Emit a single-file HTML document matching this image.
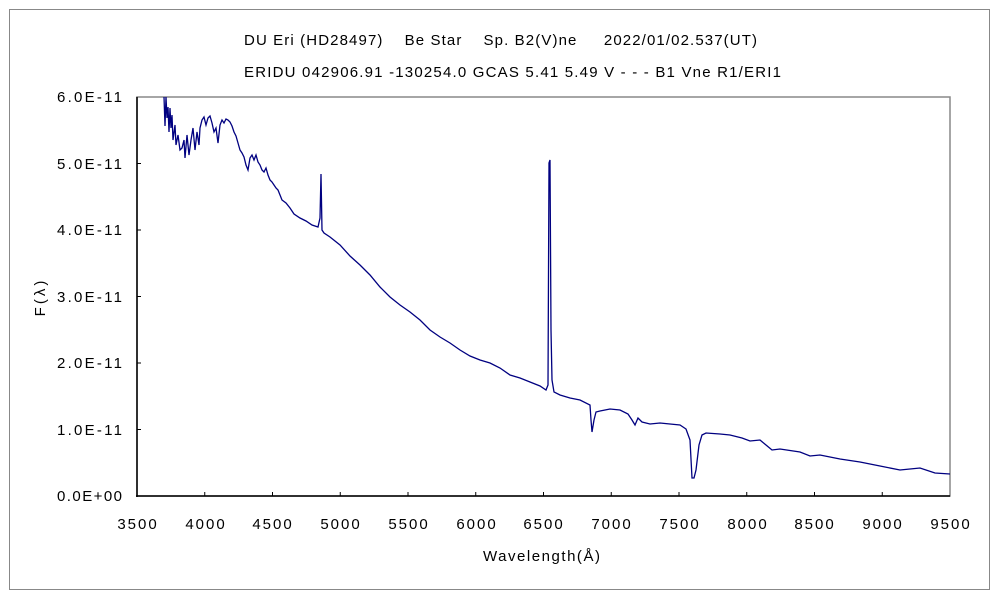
<!DOCTYPE html>
<html><head><meta charset="utf-8"><style>
body{margin:0;background:#fff}
svg text{font-family:"Liberation Sans","Noto Sans CJK JP",sans-serif;font-size:15px;fill:#000}
</style></head><body>
<svg width="1000" height="600" xmlns="http://www.w3.org/2000/svg">
<rect x="0" y="0" width="1000" height="600" fill="#fff"/>
<rect x="9.5" y="9.5" width="980" height="580" fill="none" stroke="#888" stroke-width="1"/>
<text x="244" y="45" textLength="513" lengthAdjust="spacing" xml:space="preserve">DU Eri (HD28497)    Be Star    Sp. B2(V)ne     2022/01/02.537(UT)</text>
<text x="244" y="77" textLength="537" lengthAdjust="spacing">ERIDU 042906.91 -130254.0 GCAS 5.41 5.49 V - - - B1 Vne R1/ERI1</text>
<rect x="137" y="97" width="813" height="399" fill="none" stroke="#888" stroke-width="1.5"/>
<line x1="137" y1="97" x2="137" y2="497" stroke="#000" stroke-width="1.5"/>
<line x1="136" y1="496" x2="950" y2="496" stroke="#000" stroke-width="1.5"/>
<g stroke="#000" stroke-width="1">
<line x1="137" y1="163.5" x2="141" y2="163.5"/><line x1="137" y1="230" x2="141" y2="230"/><line x1="137" y1="296.5" x2="141" y2="296.5"/><line x1="137" y1="363" x2="141" y2="363"/><line x1="137" y1="429.5" x2="141" y2="429.5"/>
<line x1="204.75" y1="496" x2="204.75" y2="492"/><line x1="272.5" y1="496" x2="272.5" y2="492"/><line x1="340.25" y1="496" x2="340.25" y2="492"/><line x1="408" y1="496" x2="408" y2="492"/><line x1="475.75" y1="496" x2="475.75" y2="492"/><line x1="543.5" y1="496" x2="543.5" y2="492"/><line x1="611.25" y1="496" x2="611.25" y2="492"/><line x1="679" y1="496" x2="679" y2="492"/><line x1="746.75" y1="496" x2="746.75" y2="492"/><line x1="814.5" y1="496" x2="814.5" y2="492"/><line x1="882.25" y1="496" x2="882.25" y2="492"/>
</g>
<g>
<text x="57" y="102" textLength="65">6.0E-11</text><text x="57" y="169" textLength="65">5.0E-11</text><text x="57" y="235" textLength="65">4.0E-11</text><text x="57" y="302" textLength="65">3.0E-11</text><text x="57" y="368" textLength="65">2.0E-11</text><text x="57" y="435" textLength="65">1.0E-11</text><text x="57" y="501" textLength="65">0.0E+00</text>
</g>
<g text-anchor="middle" style="letter-spacing:2px">
<text x="138" y="529">3500</text><text x="206" y="529">4000</text><text x="273" y="529">4500</text><text x="341" y="529">5000</text><text x="409" y="529">5500</text><text x="477" y="529">6000</text><text x="544" y="529">6500</text><text x="612" y="529">7000</text><text x="680" y="529">7500</text><text x="748" y="529">8000</text><text x="815" y="529">8500</text><text x="883" y="529">9000</text><text x="951" y="529">9500</text>
</g>
<text x="483" y="561" textLength="117">Wavelength(Å)</text>
<text x="45" y="297" text-anchor="middle" transform="rotate(-90 45 297)" style="letter-spacing:3px">F(λ)</text>
<polyline fill="none" stroke="#000080" stroke-width="1.3" points="164,97 165,126 166,97 167,118 168,107 169,132 170,108 171,128 172,115 173,140 175,125 176,145 178,135 180,150 182,148 184,140 185,158 187,135 189,155 191,140 193,128 195,150 197,132 199,145 200,128 202,120 204,117 206,125 208,118 210,116 212,123 214,132 216,128 218,143 220,125 222,120 224,123 226,119 228,120 230,122 232,126 234,132 236,136 238,143 240,150 242,153 244,157 246,165 248,170 250,158 252,155 254,160 256,155 258,162 260,165 262,170 264,172 266,168 268,175 270,180 272,182 274,185 276,188 278,190 282,200 286,203 290,208 294,214 300,218 306,221 312,225 318,227 320,218 321,174 322,230 324,233 330,237 340,245 350,256 360,265 370,275 380,287 390,297 400,305 410,312 420,320 430,330 440,337 450,343 460,350 470,356 480,360 490,363 500,368 510,375 520,378 530,382 540,386 546,390 548,385 549,163 550,160 551,330 552,380 554,392 560,395 570,398 580,400 590,405 591,420 592,432 594,420 596,412 600,411 610,409 620,410 628,414 632,420 635,425 638,418 642,422 650,424 660,423 670,424 680,425 686,429 690,440 692,478 694,478 696,470 699,445 702,435 706,433 720,434 730,435 742,438 750,441 760,440 766,445 772,450 780,449 800,452 810,456 820,455 840,459 860,462 880,466 900,470 920,468 935,473 950,474"/>
</svg>
</body></html>
